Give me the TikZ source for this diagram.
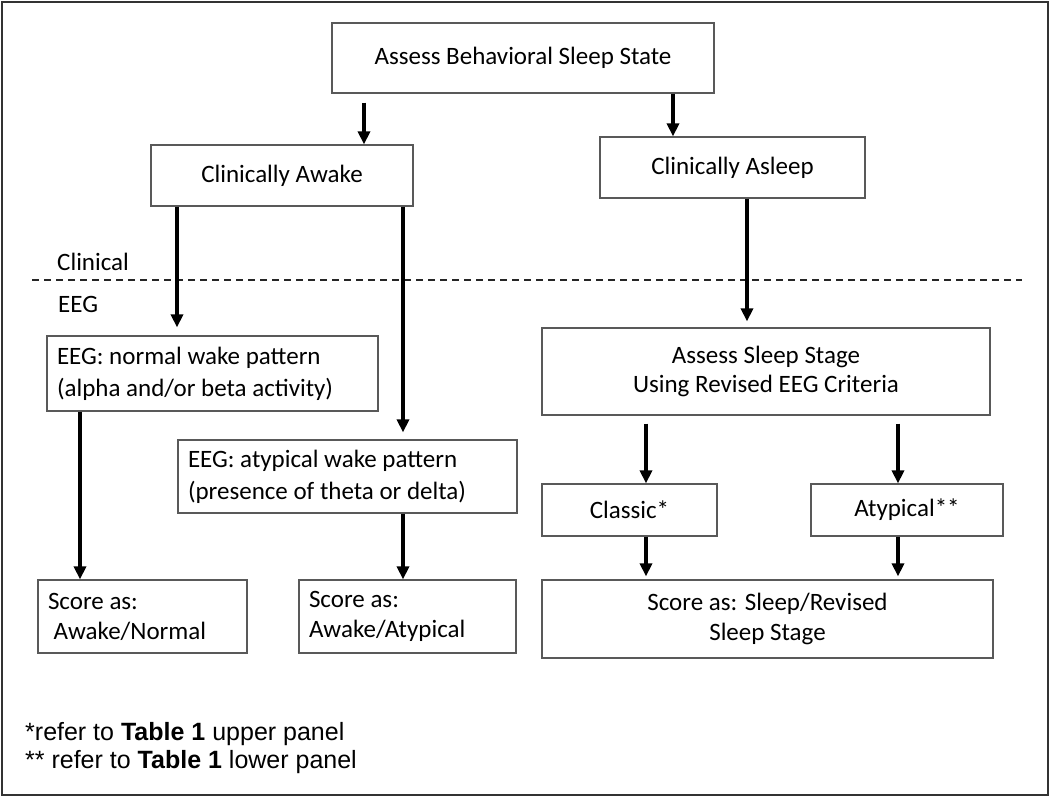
\documentclass[tikz,border=0pt]{standalone}
\usepackage{fontspec}
\setmainfont{Carlito}
\newfontfamily\notefont{Liberation Sans}
\usetikzlibrary{arrows.meta}

\begin{document}
\begin{tikzpicture}[
  x=1pt, y=-1pt,
  every node/.style={
    font=\fontsize{25}{30}\selectfont, inner sep=0pt
  },
  box/.style={
    draw=black!65, line width=1.2pt, align=center
  },
  lbox/.style={
    box, align=flush left, inner xsep=10pt
  },
  arr/.style={
    -{Triangle[width=12pt,length=13pt]}, line width=3.2pt
  },
  note/.style={
    anchor=base west, font=\notefont\fontsize{25}{28}\selectfont
  }
  ]
  \useasboundingbox (0,0) rectangle (1050,797);
  \draw[black!80, line width=2pt] (2,2) rectangle (1048,795);

  % clinical level
  \node[box, minimum width=382pt, minimum height=70pt] (behav) at (523,58)
    {Assess Behavioral Sleep State};
  \node[box, minimum width=262pt, minimum height=61pt] (awake) at (282,175.5)
    {Clinically Awake};
  \node[box, minimum width=265pt, minimum height=61pt] (asleep) at (732.5,167.5)
    {Clinically Asleep};

  \draw[black!85, line width=1.5pt, dash pattern=on 7pt off 5pt] (32,280) -- (1022,280);
  \node[anchor=base west] (clin) at (57,270) {Clinical};
  \node[anchor=base west] (eeg) at (58,312) {EEG};

  % EEG level
  \node[lbox, text width=311pt, minimum height=75pt, font=\fontsize{25}{32}\selectfont] (normal) at (212.5,373.5)
    {EEG: normal wake pattern\\(alpha and/or beta activity)};
  \node[lbox, text width=319pt, minimum height=73pt, font=\fontsize{25}{32}\selectfont] (atyp) at (347.5,476.5)
    {EEG: atypical wake pattern\\(presence of theta or delta)};
  \node[lbox, text width=189pt, minimum height=73pt] (scorenorm) at (142.5,616.5)
    {Score as:\\\ Awake/Normal};
  \node[lbox, text width=197pt, minimum height=73pt] (scoreatyp) at (407.5,616.5)
    {Score as:\\Awake/Atypical};
  \node[box, minimum width=448pt, minimum height=87pt, font=\fontsize{25}{29}\selectfont] (stage) at (766,371.5)
    {Assess Sleep Stage\\Using Revised EEG Criteria};
  \node[box, minimum width=175pt, minimum height=52pt] (classic) at (629.5,510)
    {Classic*};
  \node[box, minimum width=192pt, minimum height=52pt] (atypsleep) at (907,510)
    {Atypical**};
  \node[box, minimum width=451pt, minimum height=78pt] (scoresleep) at (767.5,619)
    {Score as: Sleep/Revised\\Sleep Stage};

  % arrow columns
  \coordinate (ca) at (364,0);
  \coordinate (cb) at (673,0);
  \coordinate (cc) at (177,0);
  \coordinate (cd) at (403,0);
  \coordinate (ce) at (747,0);
  \coordinate (cf) at (80,0);
  \coordinate (cg) at (646,0);
  \coordinate (ch) at (898,0);

  \draw[arr, shorten <=9pt] (behav.south -| ca) -- (awake.north -| ca);
  \draw[arr] (behav.south -| cb) -- (asleep.north -| cb);
  \draw[arr, shorten >=8pt] (awake.south -| cc) -- (normal.north -| cc);
  \draw[arr, shorten >=7pt] (awake.south -| cd) -- (atyp.north -| cd);
  \draw[arr, shorten >=6pt] (asleep.south -| ce) -- (stage.north -| ce);
  \draw[arr] (normal.south -| cf) -- (scorenorm.north -| cf);
  \draw[arr] (atyp.south -| cd) -- (scoreatyp.north -| cd);
  \draw[arr, shorten <=8pt] (stage.south -| cg) -- (classic.north -| cg);
  \draw[arr, shorten <=8pt] (stage.south -| ch) -- (atypsleep.north -| ch);
  \draw[arr, shorten >=3pt] (classic.south -| cg) -- (scoresleep.north -| cg);
  \draw[arr, shorten >=3pt] (atypsleep.south -| ch) -- (scoresleep.north -| ch);

  % footnotes
  \node[note] (note1) at (25,740) {*refer to \textbf{Table 1} upper panel};
  \node[note] (note2) at (25,768) {** refer to \textbf{Table 1} lower panel};
\end{tikzpicture}
\end{document}
